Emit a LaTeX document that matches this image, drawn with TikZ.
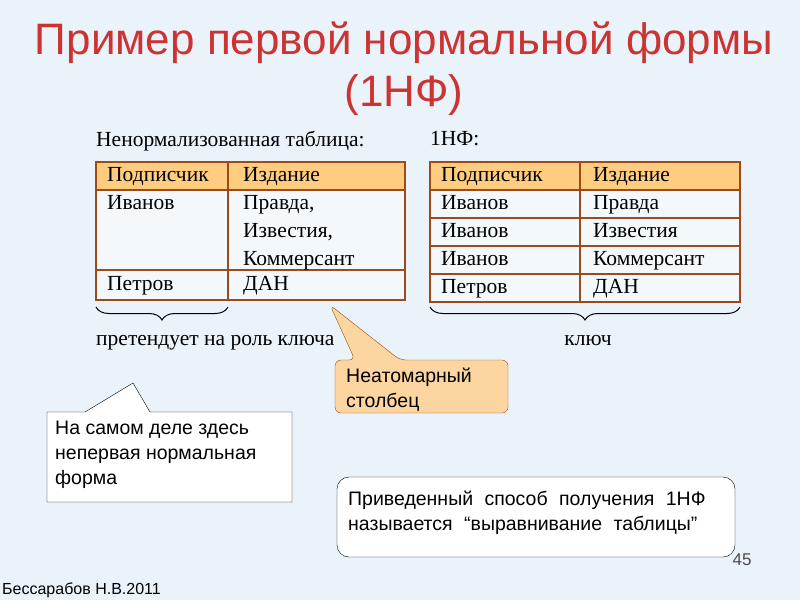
\documentclass[tikz,border=0pt]{standalone}
\usepackage{fontspec}
\setmainfont{Liberation Serif}
\newfontfamily\sansf{Liberation Sans}
\usetikzlibrary{decorations.pathreplacing}
\definecolor{bg}{HTML}{EAF3FA}
\definecolor{ttl}{HTML}{CC3333}
\definecolor{hdr}{HTML}{FFCC80}
\definecolor{brd}{HTML}{9C4A1A}
\definecolor{call}{HTML}{FCD5A0}
\begin{document}
\begin{tikzpicture}[x=1pt,y=-1pt,
  cell/.style={font=\fontsize{21.5}{28}\selectfont, anchor=north west, inner sep=0pt, align=left},
  tbl/.style={draw=brd, line width=2pt},
  ctext/.style={font=\sansf\fontsize{19.5}{25}\selectfont, anchor=north west, inner sep=0pt, align=left},
  brc/.style={decorate, decoration={brace, mirror, amplitude=13pt}, line width=1pt}]
\fill[bg] (0,0) rectangle (800,600);
\useasboundingbox (0,0) rectangle (800,600);
\node[font=\sansf\fontsize{44}{52}\selectfont, text=ttl, align=center] (title) at (404,69) {Пример первой нормальной формы\\(1НФ)};
\node[cell] (lcap) at (96,131) {Ненормализованная таблица:};
\node[cell] (rcap) at (430,131) {1НФ:};
% left table
\fill[hdr] (96,162) rectangle (405,190);
\fill[white!40!bg] (96,190) rectangle (405,300);
\draw[tbl] (96,162) rectangle (405,300);
\draw[tbl] (228,162) -- (228,300);
\draw[tbl] (96,190) -- (405,190);
\draw[tbl] (96,270) -- (405,270);
\node[cell] (l1) at (107,167) {Подписчик};
\node[cell] (l2) at (243,167) {Издание};
\node[cell] (l3) at (107,195) {Иванов};
\node[cell] (l4) at (243,195) {Правда,\\Известия,\\Коммерсант};
\node[cell] (l5) at (107,276) {Петров};
\node[cell] (l6) at (243,276) {ДАН};
% right table
\fill[hdr] (430,162) rectangle (740,190);
\fill[white!40!bg] (430,190) rectangle (740,302);
\draw[tbl] (430,162) rectangle (740,302);
\draw[tbl] (580,162) -- (580,302);
\foreach \y in {190,218,246,274} \draw[tbl] (430,\y) -- (740,\y);
\node[cell] (r1) at (441,167) {Подписчик};
\node[cell] (r2) at (593,167) {Издание};
\foreach \n/\a/\b [count=\i] in {Иванов/Правда/0,Иванов/Известия/1,Иванов/Коммерсант/2,Петров/ДАН/3}{
  \node[cell] (ra\i) at (441,195+28*\b) {\n};
  \node[cell] (rb\i) at (593,195+28*\b) {\a};
}
% braces
\draw[brc] (96,307) -- (228,307);
\draw[brc] (430,307) -- (740,307);
\node[cell] (k1) at (96,335) {претендует на роль ключа};
\node[cell, anchor=north] (k2) at (588,335) {ключ};
% callout Неатомарный
\coordinate (tipA) at (330,305);
\draw[brd, fill=call, rounded corners=6pt] (335,360) -- (355,360) -- (tipA) -- (400,360) -- (508,360) -- (508,413) -- (335,413) -- cycle;
\node[ctext] (cA) at (346,368) {Неатомарный\\столбец};
% callout left
\coordinate (tipB) at (133,383);
\draw[fill=white] (47,412) -- (85,412) -- (tipB) -- (150,412) -- (292,412) -- (292,502) -- (47,502) -- cycle;
\node[ctext] (cB) at (55,421) {На самом деле здесь\\непервая нормальная\\форма};
% bottom box
\draw[fill=white, rounded corners=12pt] (337,477) rectangle (735,557);
\node[ctext] (cC) at (348,491) {Приведенный\hspace{6pt} способ\hspace{6pt} получения\hspace{6pt} 1НФ\\называется\hspace{6pt} “выравнивание\hspace{6pt} таблицы”};
\node[font=\sansf\fontsize{17}{20}\selectfont, text=black!70] (pg) at (742,560) {45};
\node[font=\sansf\fontsize{16}{18}\selectfont, anchor=west, inner sep=0pt] (auth) at (2,590) {Бессарабов Н.В.2011};
\end{tikzpicture}
\end{document}
